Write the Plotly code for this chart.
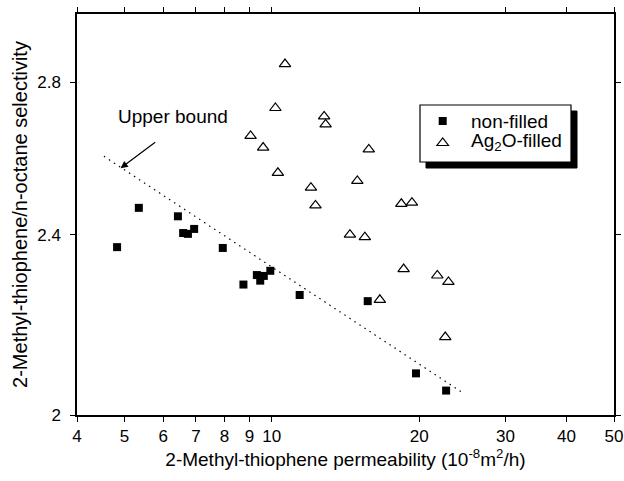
import numpy as np
import plotly.graph_objects as go

# non-filled membranes
nf_perm = [4.83, 5.35, 6.43, 6.59, 6.74, 6.94, 7.94, 8.75, 9.32, 9.47, 9.63, 9.93, 11.4, 15.7, 19.7, 22.7]
nf_sel = [2.370, 2.466, 2.445, 2.404, 2.402, 2.414, 2.368, 2.282, 2.304, 2.291, 2.302, 2.314, 2.258, 2.244, 2.086, 2.050]

# Ag2O-filled membranes
ag_perm = [10.64, 10.17, 12.79, 12.88, 9.05, 9.60, 15.78, 10.29, 14.95, 12.02, 12.28, 18.39, 19.33,
           14.44, 15.49, 18.59, 21.78, 22.95, 16.62, 22.61]
ag_sel = [2.852, 2.728, 2.705, 2.683, 2.652, 2.621, 2.616, 2.555, 2.534, 2.517, 2.472, 2.476, 2.479,
          2.400, 2.394, 2.318, 2.303, 2.288, 2.247, 2.164]

# upper bound line end points
ub_perm = [4.54, 24.5]
ub_sel = [2.598, 2.046]

# annotation positions
ub_text_pos = (6.27, 2.706)
ub_arrow_tail = (5.82, 2.638)
ub_arrow_head = (4.91, 2.567)

x_ticks = [4, 5, 6, 7, 8, 9, 10, 20, 30, 40, 50]
x_ticktext = [str(v) for v in x_ticks]
y_ticks = [2, 2.4, 2.8]
y_ticktext = ["2", "2.4", "2.8"]

series_names = ["non-filled", "Ag<sub>2</sub>O-filled"]

FONT = "Arial, Liberation Sans, sans-serif"

# plot area in pixels (for placing the hand-drawn legend box)
L, R, T, B = 77, 614, 14, 415
def px(xp):
    return (xp - L) / (R - L)
def py(yp):
    return (B - yp) / (B - T)
def pt(xp, yp):
    return "{:.5f},{:.5f}".format(px(xp), py(yp))

fig = go.Figure()
fig.add_trace(go.Scatter(
    x=ub_perm, y=ub_sel, mode="lines", showlegend=False,
    line=dict(color="black", width=1.2, dash="1.5px,4.5px"), hoverinfo="skip"))
fig.add_trace(go.Scatter(
    x=nf_perm, y=nf_sel, mode="markers", name=series_names[0], showlegend=False,
    marker=dict(symbol="square", size=8, color="black")))
fig.add_trace(go.Scatter(
    x=ag_perm, y=ag_sel, mode="markers", name=series_names[1], showlegend=False,
    marker=dict(symbol="triangle-up-open", size=10, color="black", line=dict(width=1.2, color="black"))))

fig.add_annotation(x=np.log10(ub_text_pos[0]), y=np.log10(ub_text_pos[1]), xref="x", yref="y",
                   text="Upper bound",
                   showarrow=False, font=dict(family=FONT, size=19, color="black"))
fig.add_annotation(x=np.log10(ub_arrow_head[0]), y=np.log10(ub_arrow_head[1]), xref="x", yref="y",
                   ax=np.log10(ub_arrow_tail[0]), ay=np.log10(ub_arrow_tail[1]),
                   axref="x", ayref="y", text="", showarrow=True,
                   arrowhead=2, arrowsize=1.2, arrowwidth=1.2, arrowcolor="black")

# legend drop shadow: L-shaped polygon right of and below the box
shadow_path = "M " + " L ".join([pt(571, 111), pt(577, 111), pt(577, 168), pt(426, 168),
                                 pt(426, 162), pt(571, 162)]) + " Z"
fig.add_shape(type="path", xref="paper", yref="paper", path=shadow_path,
              fillcolor="#000000", line=dict(width=1, color="#000000"), layer="above")
# legend box
fig.add_shape(type="rect", xref="paper", yref="paper",
              x0=px(420), x1=px(571), y0=py(162), y1=py(105),
              fillcolor="white", line=dict(width=1.2, color="black"), layer="above")
# legend key symbols
kx = 442.7
fig.add_shape(type="rect", xref="paper", yref="paper",
              x0=px(kx - 4), x1=px(kx + 4), y0=py(121 + 4), y1=py(121 - 4),
              fillcolor="black", line=dict(width=0), layer="above")
ty = 143
tri_path = "M " + " L ".join([pt(kx - 5.8, ty + 2.5), pt(kx + 5.8, ty + 2.5), pt(kx, ty - 5)]) + " Z"
fig.add_shape(type="path", xref="paper", yref="paper", path=tri_path,
              fillcolor="rgba(0,0,0,0)", line=dict(width=1.2, color="black"), layer="above")
fig.add_annotation(xref="paper", yref="paper", x=px(469), y=py(121), xanchor="left", yanchor="middle",
                   text=series_names[0], showarrow=False,
                   font=dict(family=FONT, size=19, color="black"))
fig.add_annotation(xref="paper", yref="paper", x=px(469), y=py(142), xanchor="left", yanchor="middle",
                   text=series_names[1], showarrow=False,
                   font=dict(family=FONT, size=19, color="black"))

axis_common = dict(showline=True, linecolor="black", linewidth=1.5, mirror="ticks",
                   ticks="outside", ticklen=5, tickwidth=1.2, tickcolor="black",
                   showgrid=False, zeroline=False,
                   tickfont=dict(family=FONT, size=17, color="black"))

xaxis = dict(type="log", range=[np.log10(4), np.log10(50)],
             tickmode="array", tickvals=x_ticks, ticktext=x_ticktext,
             title=dict(text="2-Methyl-thiophene permeability (10<sup>-8</sup>m<sup>2</sup>/h)",
                        font=dict(family=FONT, size=19, color="black"), standoff=5),
             **axis_common)
yaxis = dict(type="log", range=[np.log10(2), np.log10(3)],
             tickmode="array", tickvals=y_ticks, ticktext=y_ticktext, ticklabelstandoff=6,
             title=dict(text="2-Methyl-thiophene/n-octane selectivity",
                        font=dict(family=FONT, size=20, color="black"), standoff=4),
             **axis_common)

fig.update_layout(
    width=624, height=481,
    margin=dict(l=L, r=624 - R, t=T, b=481 - B, autoexpand=False),
    paper_bgcolor="white", plot_bgcolor="white",
    font=dict(family=FONT, color="black"),
    showlegend=False,
    xaxis=xaxis,
    yaxis=yaxis,
)

fig.write_html("out.html")
